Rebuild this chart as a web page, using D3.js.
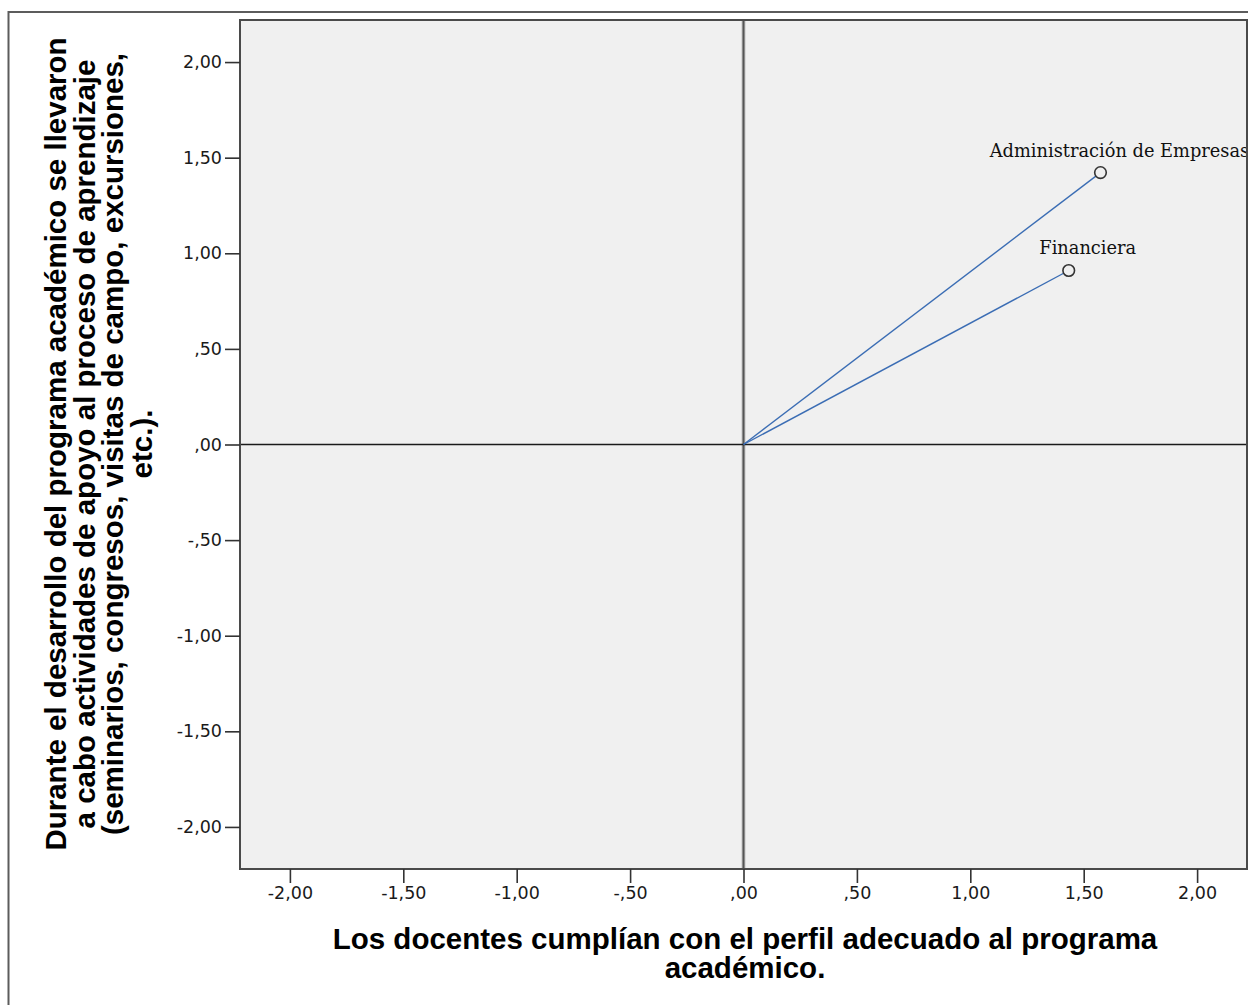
<!DOCTYPE html>
<html>
<head>
<meta charset="utf-8">
<script src="https://cdn.jsdelivr.net/npm/d3@7"></script>
<style>
  html, body { margin: 0; padding: 0; background: #fff; }
  svg { display: block; }
</style>
</head>
<body>
<svg id="chart" width="1248" height="1005"></svg>
<script>
// Category points (object scores) and axis setup
const categories = ["Administración de Empresas", "Financiera"];
const xValues = [1.574, 1.434];
const yValues = [1.422, 0.910];
const tickValues = [-2, -1.5, -1, -0.5, 0, 0.5, 1, 1.5, 2];
const axisExtent = [-2.22, 2.22];
const xTitleLines = [
  "Los docentes cumplían con el perfil adecuado al programa",
  "académico."
];
const yTitleLines = [
  "Durante el desarrollo del programa académico se llevaron",
  "a cabo actividades de apoyo al proceso de aprendizaje",
  "(seminarios, congresos, visitas de campo, excursiones,",
  "etc.)."
];

const svg = d3.select("#chart");
const plot = { left: 240, right: 1247, top: 20, bottom: 869 };

const x = d3.scaleLinear().domain(axisExtent).range([plot.left, plot.right]);
const y = d3.scaleLinear().domain(axisExtent).range([plot.bottom, plot.top]);

// Decimal comma, no leading zero: 0.5 -> ",50", -2 -> "-2,00"
const fmt = v => {
  let s = Math.abs(v).toFixed(2).replace(".", ",");
  if (s.startsWith("0")) s = s.slice(1);
  return (v < 0 ? "-" : "") + s;
};

// Outer frame
svg.append("rect")
  .attr("x", 8.5).attr("y", 12)
  .attr("width", 1400).attr("height", 1200)
  .attr("fill", "#fff")
  .attr("stroke", "#5c5c5c").attr("stroke-width", 2);

// Plot background
svg.append("rect")
  .attr("x", plot.left).attr("y", plot.top)
  .attr("width", plot.right - plot.left).attr("height", plot.bottom - plot.top)
  .attr("fill", "#f0f0f0");

// Reference lines through the origin
svg.append("line")
  .attr("x1", x(0)).attr("x2", x(0))
  .attr("y1", plot.top).attr("y2", plot.bottom)
  .attr("stroke", "#c4c4c4").attr("stroke-width", 4);
svg.append("line")
  .attr("x1", x(0)).attr("x2", x(0))
  .attr("y1", plot.top).attr("y2", plot.bottom)
  .attr("stroke", "#555").attr("stroke-width", 2);
svg.append("line")
  .attr("x1", plot.left).attr("x2", plot.right)
  .attr("y1", y(0)).attr("y2", y(0))
  .attr("stroke", "#1a1a1a").attr("stroke-width", 1.6);

// Vectors from origin to each category
const pts = categories.map((c, i) => ({ name: c, x: xValues[i], y: yValues[i] }));
svg.append("g").selectAll("line").data(pts).join("line")
  .attr("x1", x(0)).attr("y1", y(0))
  .attr("x2", d => x(d.x)).attr("y2", d => y(d.y))
  .attr("stroke", "#3b6db4").attr("stroke-width", 1.4);

svg.append("g").selectAll("circle").data(pts).join("circle")
  .attr("cx", d => x(d.x)).attr("cy", d => y(d.y))
  .attr("r", 5.8)
  .attr("fill", "#f0f0f0")
  .attr("stroke", "#333").attr("stroke-width", 1.6);

svg.append("g").selectAll("text").data(pts).join("text")
  .attr("x", d => x(d.x) + 19).attr("y", d => y(d.y) - 16)
  .attr("text-anchor", "middle")
  .attr("font-family", "'DejaVu Serif', serif")
  .attr("font-size", 17.8)
  .attr("fill", "#111")
  .text(d => d.name);

// Plot frame
svg.append("rect")
  .attr("x", plot.left).attr("y", plot.top)
  .attr("width", plot.right - plot.left).attr("height", plot.bottom - plot.top)
  .attr("fill", "none")
  .attr("stroke", "#4a4a4a").attr("stroke-width", 2);

// Axes
const xAxis = svg.append("g")
  .attr("transform", `translate(0,${plot.bottom})`)
  .call(d3.axisBottom(x).tickValues(tickValues).tickFormat(fmt).tickSize(14).tickPadding(4));
const yAxis = svg.append("g")
  .attr("transform", `translate(${plot.left},0)`)
  .call(d3.axisLeft(y).tickValues(tickValues).tickFormat(fmt).tickSize(15).tickPadding(3));

[xAxis, yAxis].forEach(g => {
  g.select(".domain").remove();
  g.selectAll(".tick line").attr("stroke", "#333").attr("stroke-width", 1.6);
  g.selectAll(".tick text")
    .attr("font-family", "'DejaVu Sans', sans-serif")
    .attr("font-size", 17.5)
    .attr("fill", "#1a1a1a");
});

// Axis titles
const xt = svg.append("text")
  .attr("font-family", "'Liberation Sans', Arial, sans-serif")
  .attr("font-weight", "bold")
  .attr("font-size", 29.5)
  .attr("fill", "#000")
  .attr("text-anchor", "middle");
xTitleLines.forEach((t, i) => {
  xt.append("tspan").attr("x", 745).attr("y", 949 + i * 28.5).text(t);
});

const yt = svg.append("text")
  .attr("transform", "translate(0,444) rotate(-90)")
  .attr("font-family", "'Liberation Sans', Arial, sans-serif")
  .attr("font-weight", "bold")
  .attr("font-size", 29.5)
  .attr("fill", "#000")
  .attr("text-anchor", "middle");
yTitleLines.forEach((t, i) => {
  yt.append("tspan").attr("x", 0).attr("y", 66 + i * 28.5).text(t);
});
</script>
</body>
</html>
